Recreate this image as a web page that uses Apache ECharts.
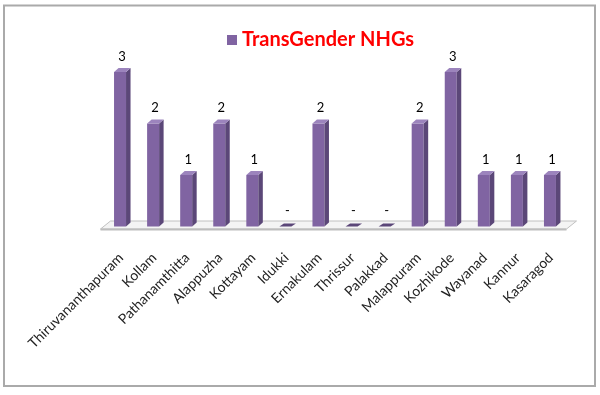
<!DOCTYPE html>
<html>
<head>
<meta charset="utf-8">
<script src="https://cdn.jsdelivr.net/npm/echarts@6/dist/echarts.min.js"></script>
<style>
html,body{margin:0;padding:0;background:#fff;}
#c{width:600px;height:395px;}
</style>
</head>
<body>
<div id="c"></div>
<script>
const categories = ['Thiruvananthapuram','Kollam','Pathanamthitta','Alappuzha','Kottayam','Idukki','Ernakulam','Thrissur','Palakkad','Malappuram','Kozhikode','Wayanad','Kannur','Kasaragod'];
const values = [3,2,1,2,1,0,2,0,0,2,3,1,1,1];
const seriesName = 'TransGender NHGs';

const chart = echarts.init(document.getElementById('c'));
const FRONT = '#8064A2', SIDE = '#5B4778', TOP = '#9C84BD';

function renderBar(params, api){
  const idx = api.value(0), v = api.value(1);
  const base = api.coord([idx, 0]);
  const top = api.coord([idx, v]);
  const w = 12, dx = 4.5, dy = 4;
  const x0 = base[0] - w/2 - 1, x1 = x0 + w;
  const yb = base[1], yt = top[1];
  const children = [];
  if (v > 0) {
    children.push({type:'rect', shape:{x:x0, y:yt, width:w, height:yb-yt}, style:{fill:FRONT}});
    children.push({type:'polygon', shape:{points:[[x1,yt],[x1+dx,yt-dy],[x1+dx,yb-dy],[x1,yb]]}, style:{fill:SIDE}});
    children.push({type:'polygon', shape:{points:[[x0,yt],[x0+dx,yt-dy],[x1+dx,yt-dy],[x1,yt]]}, style:{fill:TOP}});
  } else {
    children.push({type:'polygon', shape:{points:[[x0,yb],[x0+dx,yb-dy+1],[x1+dx,yb-dy+1],[x1,yb]]}, style:{fill:SIDE}});
  }
  children.push({type:'text', style:{text: v === 0 ? '-' : String(v), x: (x0+x1)/2 + 2, y: yt - dy - 5, align:'center', verticalAlign:'bottom', fill:'#000', font:'13px Lato, sans-serif'}});
  return {type:'group', children};
}

function renderFloor(params, api){
  const cs = params.coordSys;
  const yb = cs.y + cs.height;
  const fl = cs.x - 4, fr = cs.x + cs.width - 1;
  const dx = 10, dy = 8, fy = yb + 2.5;
  return {type:'group', children:[
    {type:'polygon', shape:{points:[[fl,fy],[fl+dx,fy-dy],[fr+dx,fy-dy],[fr,fy]]}, style:{fill:'#f4f4f4', stroke:'#c0c0c0', lineWidth:1}},
    {type:'line', shape:{x1:fl, y1:fy+0.5, x2:fr, y2:fy+0.5}, style:{stroke:'#bdbdbd', lineWidth:2}}
  ]};
}

chart.setOption({
  animation:false,
  graphic:[{type:'rect', shape:{x:4, y:5.5, width:591, height:380.5}, style:{fill:'none', stroke:'#aaaaaa', lineWidth:2}, silent:true}],
  legend:{
    data:[seriesName], left:222, top:25, icon:'rect', itemWidth:10, itemHeight:10, itemGap:8,
    textStyle:{color:'#ff0000', fontWeight:'bold', fontSize:20, fontFamily:'Lato, sans-serif'}
  },
  grid:{left:104.5, right:32.5, top:72, bottom:168.5},
  xAxis:{
    type:'category', data:categories,
    axisLine:{show:false}, axisTick:{show:false},
    axisLabel:{rotate:45, interval:0, margin:29, fontSize:14, color:'#222', fontFamily:'Lato, sans-serif'}
  },
  yAxis:{type:'value', min:0, max:3, interval:1, show:false, splitLine:{show:false}},
  series:[
    {type:'custom', name:'floor', renderItem:renderFloor, data:[[0,0]], z:1, silent:true},
    {type:'custom', name:seriesName, renderItem:renderBar, itemStyle:{color:FRONT}, data: values.map((v,i)=>[i,v]), encode:{x:0,y:1}, z:2}
  ]
});
</script>
</body>
</html>
